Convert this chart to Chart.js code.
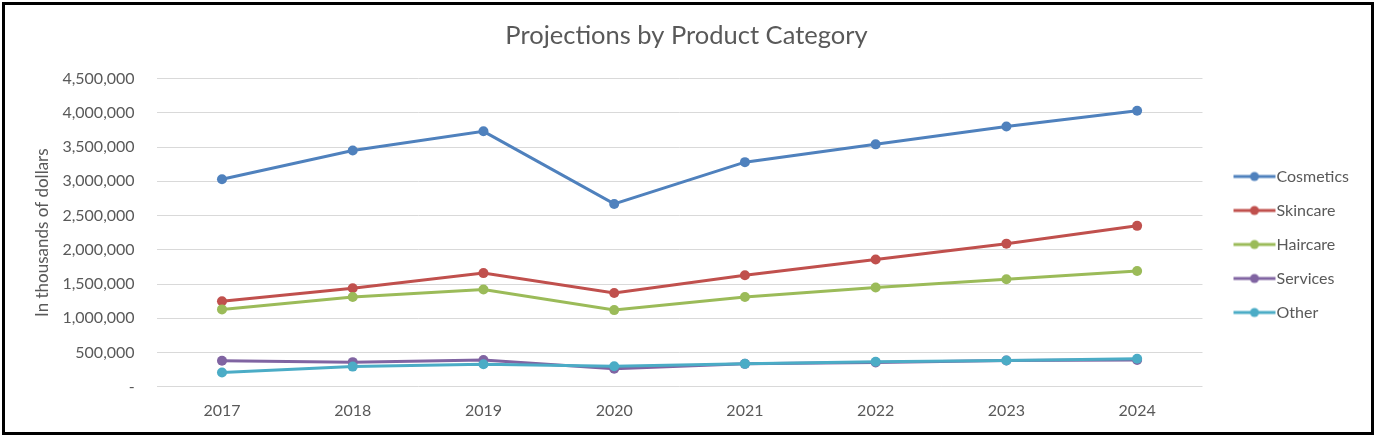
<!DOCTYPE html>
<html>
<head>
<meta charset="utf-8">
<script src="https://cdn.jsdelivr.net/npm/chart.js@4.4.0/dist/chart.umd.min.js"></script>
<style>
  html, body { margin: 0; padding: 0; background: #fff; }
  #frame {
    position: absolute; left: 2px; top: 2px;
    width: 1372px; height: 433px; box-sizing: border-box;
    border: 3px solid #000; background: #fff;
  }
  #myChart { display: block; }
</style>
</head>
<body>
<div id="frame"><canvas id="myChart" width="1366" height="427"></canvas></div>
<script>
var years = ['2017', '2018', '2019', '2020', '2021', '2022', '2023', '2024'];
var seriesNames = ['Cosmetics', 'Skincare', 'Haircare', 'Services', 'Other'];
var cosmetics = [3030000, 3450000, 3730000, 2670000, 3280000, 3540000, 3800000, 4030000];
var skincare = [1250000, 1440000, 1660000, 1370000, 1630000, 1860000, 2090000, 2350000];
var haircare = [1130000, 1310000, 1420000, 1120000, 1310000, 1450000, 1570000, 1690000];
var services = [380000, 360000, 390000, 265000, 335000, 355000, 385000, 390000];
var other = [210000, 295000, 330000, 300000, 335000, 365000, 385000, 410000];
var colors = ['#4F81BD', '#C0504D', '#9BBB59', '#8064A2', '#4BACC6'];

var FONT = "Lato, 'Open Sans', sans-serif";
var GREY = '#595959';

// little line-with-dot picture for the legend
function legendIcon(color) {
    var c = document.createElement('canvas');
    c.width = 64;
    c.height = 12;
    var g = c.getContext('2d');
    g.strokeStyle = color;
    g.lineWidth = 3;
    g.beginPath();
    g.moveTo(21, 6);
    g.lineTo(63, 6);
    g.stroke();
    g.fillStyle = color;
    g.beginPath();
    g.arc(42, 6, 4.5, 0, Math.PI * 2);
    g.fill();
    return c;
}
var icons = colors.map(legendIcon);

var allData = [cosmetics, skincare, haircare, services, other];
var datasets = seriesNames.map(function (name, i) {
    return {
        label: name,
        data: allData[i],
        borderColor: colors[i],
        backgroundColor: colors[i],
        borderWidth: 3,
        pointStyle: 'circle',
        pointRadius: 5,
        pointHoverRadius: 5,
        pointBorderWidth: 0,
        tension: 0,
        order: seriesNames.length - i
    };
});

var ctx = document.getElementById('myChart').getContext('2d');
var myChart = new Chart(ctx, {
    type: 'line',
    data: {
        labels: years,
        datasets: datasets
    },
    options: {
        responsive: false,
        animation: false,
        layout: {
            padding: { left: 9, right: 12, top: 0, bottom: 12 }
        },
        plugins: {
            title: {
                display: true,
                text: 'Projections by Product Category',
                color: GREY,
                font: { family: FONT, size: 25.5, weight: 'normal' },
                padding: { top: 15, bottom: 28 }
            },
            legend: {
                position: 'right',
                title: {
                    display: true,
                    text: '',
                    padding: { top: 44, bottom: 0 },
                    font: { size: 10, lineHeight: 2 }
                },
                labels: {
                    usePointStyle: true,
                    pointStyleWidth: 48,
                    padding: 18,
                    color: GREY,
                    font: { family: FONT, size: 16 },
                    sort: function (a, b) { return a.datasetIndex - b.datasetIndex; },
                    generateLabels: function (chart) {
                        var items = Chart.defaults.plugins.legend.labels.generateLabels(chart);
                        items.forEach(function (item) {
                            item.pointStyle = icons[item.datasetIndex];
                        });
                        return items;
                    }
                }
            },
            tooltip: { enabled: false }
        },
        scales: {
            x: {
                offset: true,
                grid: { display: false, drawTicks: false },
                border: { display: false },
                ticks: {
                    color: GREY,
                    padding: 14,
                    font: { family: FONT, size: 16 }
                },
                afterFit: function (scale) { scale.height -= 14; }
            },
            y: {
                min: 0,
                max: 4500000,
                grid: { color: '#d9d9d9', lineWidth: 1, drawTicks: false },
                border: { display: false },
                ticks: {
                    stepSize: 500000,
                    color: GREY,
                    padding: 22,
                    font: { family: FONT, size: 16 },
                    callback: function (value) {
                        return value === 0 ? '-' : value.toLocaleString('en-US');
                    }
                },
                title: {
                    display: true,
                    text: 'In thousands of dollars',
                    color: GREY,
                    font: { family: FONT, size: 17 },
                    padding: { top: 18, bottom: 8 }
                },
                afterFit: function (scale) { scale.width -= 20; }
            }
        }
    }
});
</script>
</body>
</html>
